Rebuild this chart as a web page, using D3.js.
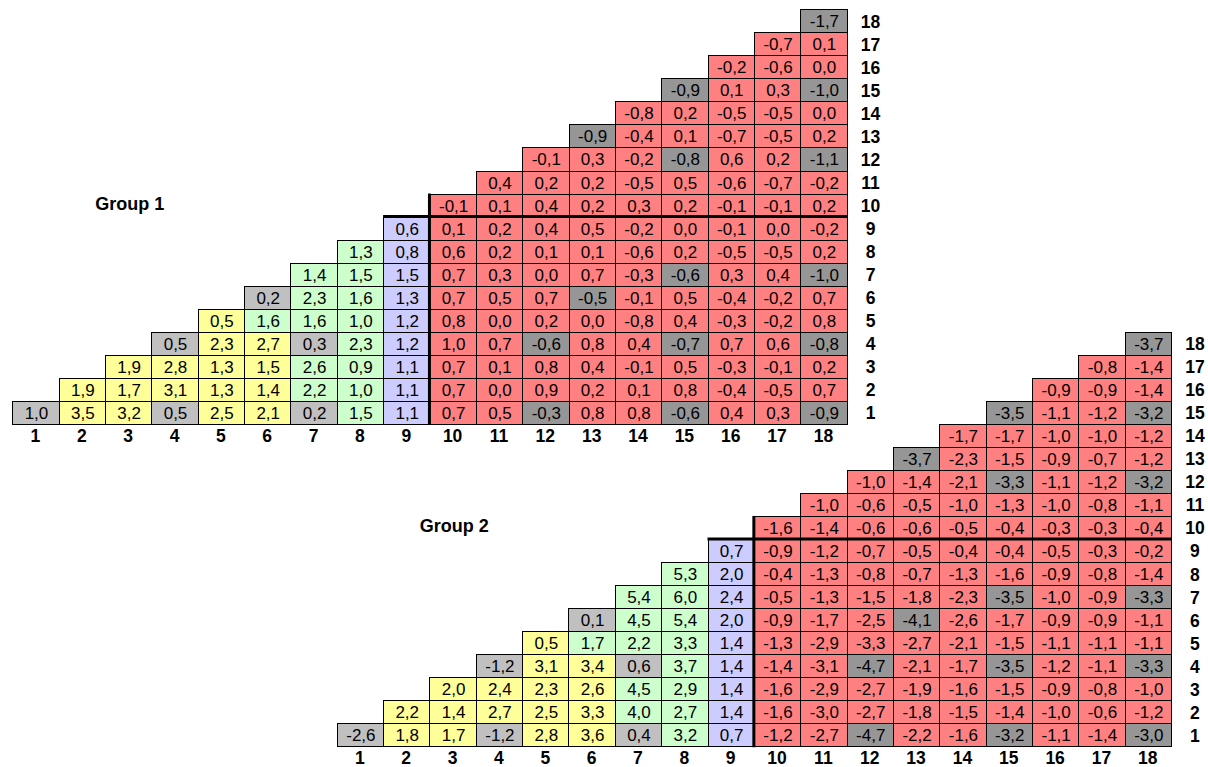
<!DOCTYPE html>
<meta charset="utf-8">
<style>
body { margin: 0; background: #fff; }
svg { font-family: "Liberation Sans", Arial, sans-serif; }
.cell rect { stroke: #000; stroke-width: 1px; }
.cell text { font-size: 17px; fill: #000; text-anchor: middle; dominant-baseline: central; }
.lab { font-size: 17.5px; font-weight: bold; text-anchor: middle; dominant-baseline: central; }
.title { font-size: 18px; font-weight: bold; dominant-baseline: central; }
.sep { stroke: #000; stroke-width: 3px; fill: none; }
</style>
<svg width="1208" height="767"></svg>
<script src="https://cdn.jsdelivr.net/npm/d3@7"></script>
<script>

var cols = d3.range(1, 19);
var rows = d3.range(1, 19);

// row r holds the values of columns r..18
var group1 = [
  [1.0, 3.5, 3.2, 0.5, 2.5, 2.1, 0.2, 1.5, 1.1, 0.7, 0.5, -0.3, 0.8, 0.8, -0.6, 0.4, 0.3, -0.9],
  [1.9, 1.7, 3.1, 1.3, 1.4, 2.2, 1.0, 1.1, 0.7, 0.0, 0.9, 0.2, 0.1, 0.8, -0.4, -0.5, 0.7],
  [1.9, 2.8, 1.3, 1.5, 2.6, 0.9, 1.1, 0.7, 0.1, 0.8, 0.4, -0.1, 0.5, -0.3, -0.1, 0.2],
  [0.5, 2.3, 2.7, 0.3, 2.3, 1.2, 1.0, 0.7, -0.6, 0.8, 0.4, -0.7, 0.7, 0.6, -0.8],
  [0.5, 1.6, 1.6, 1.0, 1.2, 0.8, 0.0, 0.2, 0.0, -0.8, 0.4, -0.3, -0.2, 0.8],
  [0.2, 2.3, 1.6, 1.3, 0.7, 0.5, 0.7, -0.5, -0.1, 0.5, -0.4, -0.2, 0.7],
  [1.4, 1.5, 1.5, 0.7, 0.3, 0.0, 0.7, -0.3, -0.6, 0.3, 0.4, -1.0],
  [1.3, 0.8, 0.6, 0.2, 0.1, 0.1, -0.6, 0.2, -0.5, -0.5, 0.2],
  [0.6, 0.1, 0.2, 0.4, 0.5, -0.2, 0.0, -0.1, 0.0, -0.2],
  [-0.1, 0.1, 0.4, 0.2, 0.3, 0.2, -0.1, -0.1, 0.2],
  [0.4, 0.2, 0.2, -0.5, 0.5, -0.6, -0.7, -0.2],
  [-0.1, 0.3, -0.2, -0.8, 0.6, 0.2, -1.1],
  [-0.9, -0.4, 0.1, -0.7, -0.5, 0.2],
  [-0.8, 0.2, -0.5, -0.5, 0.0],
  [-0.9, 0.1, 0.3, -1.0],
  [-0.2, -0.6, 0.0],
  [-0.7, 0.1],
  [-1.7]
];

var group2 = [
  [-2.6, 1.8, 1.7, -1.2, 2.8, 3.6, 0.4, 3.2, 0.7, -1.2, -2.7, -4.7, -2.2, -1.6, -3.2, -1.1, -1.4, -3.0],
  [2.2, 1.4, 2.7, 2.5, 3.3, 4.0, 2.7, 1.4, -1.6, -3.0, -2.7, -1.8, -1.5, -1.4, -1.0, -0.6, -1.2],
  [2.0, 2.4, 2.3, 2.6, 4.5, 2.9, 1.4, -1.6, -2.9, -2.7, -1.9, -1.6, -1.5, -0.9, -0.8, -1.0],
  [-1.2, 3.1, 3.4, 0.6, 3.7, 1.4, -1.4, -3.1, -4.7, -2.1, -1.7, -3.5, -1.2, -1.1, -3.3],
  [0.5, 1.7, 2.2, 3.3, 1.4, -1.3, -2.9, -3.3, -2.7, -2.1, -1.5, -1.1, -1.1, -1.1],
  [0.1, 4.5, 5.4, 2.0, -0.9, -1.7, -2.5, -4.1, -2.6, -1.7, -0.9, -0.9, -1.1],
  [5.4, 6.0, 2.4, -0.5, -1.3, -1.5, -1.8, -2.3, -3.5, -1.0, -0.9, -3.3],
  [5.3, 2.0, -0.4, -1.3, -0.8, -0.7, -1.3, -1.6, -0.9, -0.8, -1.4],
  [0.7, -0.9, -1.2, -0.7, -0.5, -0.4, -0.4, -0.5, -0.3, -0.2],
  [-1.6, -1.4, -0.6, -0.6, -0.5, -0.4, -0.3, -0.3, -0.4],
  [-1.0, -0.6, -0.5, -1.0, -1.3, -1.0, -0.8, -1.1],
  [-1.0, -1.4, -2.1, -3.3, -1.1, -1.2, -3.2],
  [-3.7, -2.3, -1.5, -0.9, -0.7, -1.2],
  [-1.7, -1.7, -1.0, -1.0, -1.2],
  [-3.5, -1.1, -1.2, -3.2],
  [-0.9, -0.9, -1.4],
  [-0.8, -1.4],
  [-3.7]
];

// cell classes, same layout for both groups
// y/g/b = blocks, x = light grey, r = red, d = dark grey
var cellClass = [
  "xyyxyyxgbrrdrrdrrd",
  "yyyyyggbrrrrrrrrr",
  "yyyyggbrrrrrrrrr",
  "xyyxgbrrdrrdrrd",
  "ygggbrrrrrrrrr",
  "xggbrrrdrrrrr",
  "ggbrrrrrdrrd",
  "gbrrrrrrrrr",
  "brrrrrrrrr",
  "rrrrrrrrr",
  "rrrrrrrr",
  "rrrdrrd",
  "drrrrr",
  "rrrrr",
  "drrd",
  "rrr",
  "rr",
  "d"
];

var groupNames = ["Group 1", "Group 2"];

var fills = {y: "#ffff99", g: "#ccffcc", b: "#ccccff", r: "#ff8080", x: "#c0c0c0", d: "#969696"};

var locale = d3.formatLocale({decimal: ",", thousands: ".", grouping: [3], currency: ["", ""], minus: "-"});
var fmt = locale.format(".1f");

var svg = d3.select("svg");
var cw = 46.35, ch = 23.03;

var x = d3.scaleBand().domain(cols).range([0, cw * 18]);
var y = d3.scaleBand().domain(rows.slice().reverse()).range([0, ch * 18]);

function px(v) { return Math.round(v) + 0.5; }

var origins = [{x: 12.3, y: 9.3}, {x: 336.7, y: 331.7}];

[group1, group2].forEach(function(data, gi) {
  var o = origins[gi];
  var g = svg.append("g").attr("transform", "translate(" + o.x + "," + o.y + ")");

  var cells = [];
  data.forEach(function(vals, ri) {
    var r = ri + 1;
    vals.forEach(function(v, k) {
      cells.push({row: r, col: r + k, value: v, cls: cellClass[ri][k]});
    });
  });

  var cell = g.selectAll(".cell").data(cells).enter().append("g").attr("class", "cell");
  cell.append("rect")
    .attr("x", function(d) { return px(x(d.col) + o.x) - o.x; })
    .attr("y", function(d) { return px(y(d.row) + o.y) - o.y; })
    .attr("width", function(d) { return px(x(d.col) + x.bandwidth() + o.x) - px(x(d.col) + o.x); })
    .attr("height", function(d) { return px(y(d.row) + y.bandwidth() + o.y) - px(y(d.row) + o.y); })
    .attr("fill", function(d) { return fills[d.cls]; });
  cell.append("text")
    .attr("x", function(d) { return x(d.col) + x.bandwidth() / 2 + 1; })
    .attr("y", function(d) { return y(d.row) + y.bandwidth() / 2 + 1; })
    .text(function(d) { return fmt(d.value); });

  // column labels
  g.selectAll(".collab").data(cols).enter().append("text")
    .attr("class", "lab")
    .attr("x", function(c) { return x(c) + x.bandwidth() / 2; })
    .attr("y", y(1) + ch + 12)
    .text(function(c) { return c; });

  // row labels
  g.selectAll(".rowlab").data(rows).enter().append("text")
    .attr("class", "lab")
    .attr("x", x(18) + cw + 24)
    .attr("y", function(r) { return y(r) + ch / 2 + 1; })
    .text(function(r) { return r; });

  // separators
  g.append("line").attr("class", "sep")
    .attr("x1", x(10)).attr("x2", x(10))
    .attr("y1", y(10)).attr("y2", y(1) + ch + 1);
  g.append("line").attr("class", "sep")
    .attr("x1", x(9)).attr("x2", x(18) + cw + 1)
    .attr("y1", y(9)).attr("y2", y(9));

  g.append("text").attr("class", "title")
    .attr("x", 83)
    .attr("y", y(10) + ch / 2 - 1)
    .text(groupNames[gi]);
});

</script>
